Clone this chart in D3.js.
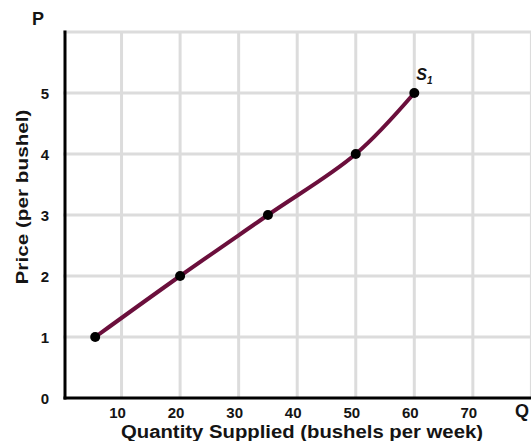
<!DOCTYPE html>
<html>
<head>
<meta charset="utf-8">
<script src="https://cdn.jsdelivr.net/npm/d3@7"></script>
<style>
  html, body { margin: 0; padding: 0; background: #fff; }
  svg { display: block; font-family: "Liberation Sans", Arial, sans-serif; }
</style>
</head>
<body>
<svg id="chart" width="531" height="441"></svg>
<script>
// Supply schedule
const quantity = [5.5, 20, 35, 50, 60];
const price = [1, 2, 3, 4, 5];
const xTicks = [10, 20, 30, 40, 50, 60, 70];
const yTicks = [0, 1, 2, 3, 4, 5];
const xGrid = [10, 20, 30, 40, 50, 60, 70, 80];
const yGrid = [1, 2, 3, 4, 5, 6];

const svg = d3.select("#chart");
const x = d3.scaleLinear().domain([0, 80]).range([63, 531.4]);
const y = d3.scaleLinear().domain([0, 6]).range([398, 32]);

const textColor = "#141414";

// grid
svg.append("g").selectAll("line").data(xGrid).join("line")
  .attr("x1", d => x(d)).attr("x2", d => x(d))
  .attr("y1", y(6)).attr("y2", y(0))
  .attr("stroke", "#dcdcdc").attr("stroke-width", 3);
svg.append("g").selectAll("line").data(yGrid).join("line")
  .attr("x1", x(0)).attr("x2", 531)
  .attr("y1", d => y(d)).attr("y2", d => y(d))
  .attr("stroke", "#dcdcdc").attr("stroke-width", 3);

// axes lines
svg.append("line").attr("x1", 65).attr("x2", 65).attr("y1", y(6) - 1.5).attr("y2", y(0) + 1.5)
  .attr("stroke", "#000").attr("stroke-width", 3);
svg.append("line").attr("x1", 63.5).attr("x2", 531).attr("y1", y(0)).attr("y2", y(0))
  .attr("stroke", "#000").attr("stroke-width", 3);

// tick labels
svg.append("g").selectAll("text").data(xTicks).join("text")
  .attr("x", d => x(d) - 4).attr("y", 418)
  .attr("text-anchor", "middle")
  .attr("font-size", 15).attr("font-weight", "bold").attr("fill", textColor)
  .text(d => d);
svg.append("g").selectAll("text").data(yTicks).join("text")
  .attr("x", 45).attr("y", d => y(d) + (d === 0 ? 6 : 5.5))
  .attr("text-anchor", "middle")
  .attr("font-size", 15).attr("font-weight", "bold").attr("fill", textColor)
  .text(d => d);

// axis titles
svg.append("text").attr("x", 38).attr("y", 25).attr("text-anchor", "middle")
  .attr("font-size", 18).attr("font-weight", "bold").attr("fill", textColor).text("P");
svg.append("text").attr("x", 522).attr("y", 417).attr("text-anchor", "middle")
  .attr("font-size", 18).attr("font-weight", "bold").attr("fill", textColor).text("Q");
svg.append("text")
  .attr("transform", "translate(28,197) rotate(-90)")
  .attr("text-anchor", "middle")
  .attr("font-size", 17).attr("font-weight", "bold").attr("fill", textColor)
  .attr("textLength", 175).attr("lengthAdjust", "spacingAndGlyphs")
  .text("Price (per bushel)");
svg.append("text").attr("x", 302).attr("y", 438).attr("text-anchor", "middle")
  .attr("font-size", 18).attr("font-weight", "bold").attr("fill", textColor)
  .attr("textLength", 362).attr("lengthAdjust", "spacingAndGlyphs")
  .text("Quantity Supplied (bushels per week)");

// supply curve
const pts = quantity.map((q, i) => [q, price[i]]);
const line = d3.line().x(d => x(d[0])).y(d => y(d[1])).curve(d3.curveCatmullRom.alpha(0.5));
svg.append("path").datum(pts).attr("d", line)
  .attr("fill", "none").attr("stroke", "#6b0f3c").attr("stroke-width", 4)
  .attr("stroke-linecap", "round");

svg.append("g").selectAll("circle").data(pts).join("circle")
  .attr("cx", d => x(d[0])).attr("cy", d => y(d[1])).attr("r", 5)
  .attr("fill", "#000");

// curve label
const lbl = svg.append("text").attr("x", x(60) + 2).attr("y", y(5) - 13)
  .attr("font-size", 16).attr("font-weight", "bold").attr("font-style", "italic")
  .attr("fill", textColor);
lbl.append("tspan").text("S");
lbl.append("tspan").attr("font-size", 10).attr("dy", 4).text("1");
</script>
</body>
</html>
